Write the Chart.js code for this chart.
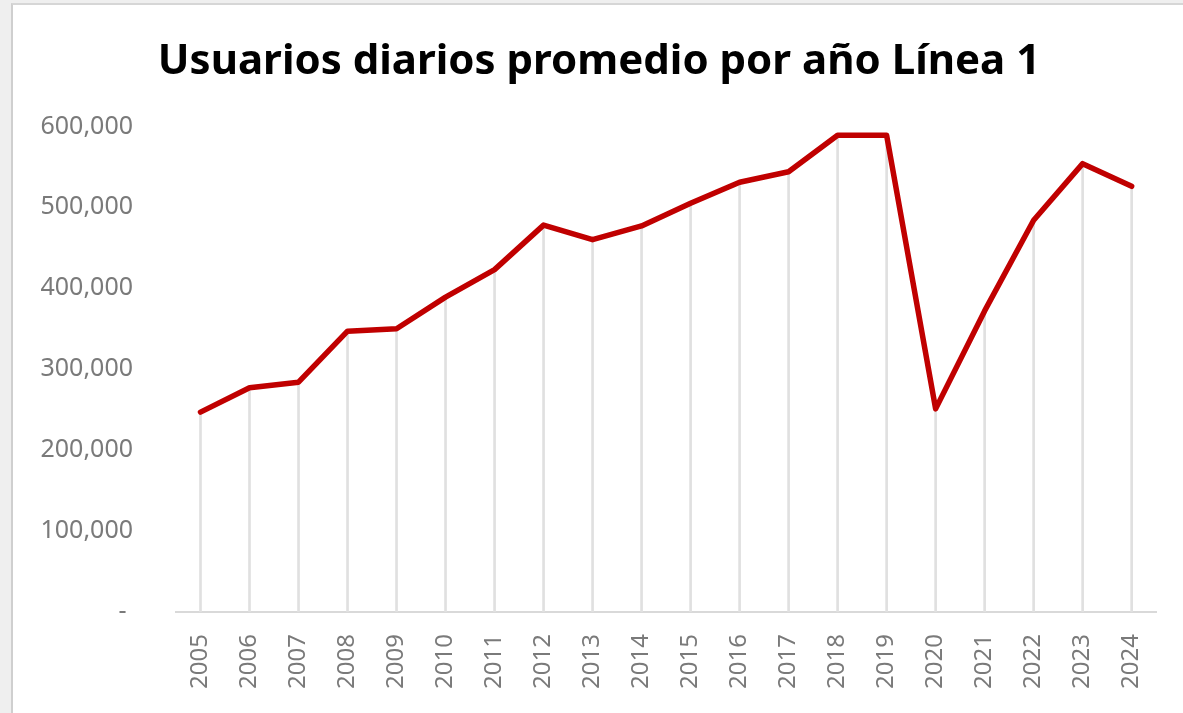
<!DOCTYPE html>
<html>
<head>
<meta charset="utf-8">
<script src="https://cdn.jsdelivr.net/npm/chart.js@4.4.1/dist/chart.umd.min.js"></script>
<style>
  html, body { margin: 0; padding: 0; }
  body { width: 1183px; height: 713px; background: #efefef; overflow: hidden; position: relative; }
  #panel {
    position: absolute; left: 11px; top: 3px; width: 1180px; height: 708px;
    background: #fff; border-left: 2px solid #cfcfcf; border-top: 2px solid #d6d6d6;
    border-bottom: 1px solid #e6e6e6;
  }
  #wrap { position: absolute; left: 0; top: 0; width: 1170px; height: 707px; }
</style>
</head>
<body>
<div id="panel"><div id="wrap"><canvas id="grafico"></canvas></div></div>
<script>
// Usuarios diarios promedio, Línea 1
const anios = ['2005','2006','2007','2008','2009','2010','2011','2012','2013','2014',
               '2015','2016','2017','2018','2019','2020','2021','2022','2023','2024'];
const usuarios = [247000, 277000, 284000, 347000, 350000, 389000, 423000, 478000, 460000, 477000,
                  505000, 531000, 544000, 589000, 589000, 251000, 372000, 484000, 554000, 526000];
const ticksY = [0, 100000, 200000, 300000, 400000, 500000, 600000];

const gris = '#7a7a7a';
const ctx = document.getElementById('grafico').getContext('2d');
const chart = new Chart(ctx, {
    data: {
        labels: anios,
        datasets: [
            {
                type: 'line',
                label: 'Usuarios',
                data: usuarios,
                borderColor: '#c00000',
                borderWidth: 5.5,
                pointRadius: 0,
                borderJoinStyle: 'round',
                borderCapStyle: 'round',
                tension: 0,
                order: 1
            },
            {
                // líneas de proyección
                type: 'bar',
                label: 'drop',
                data: usuarios,
                backgroundColor: '#e0e0e0',
                barThickness: 2,
                order: 2
            }
        ]
    },
    options: {
        responsive: true,
        maintainAspectRatio: false,
        animation: false,
        layout: { padding: { left: 24, right: 22, top: 0, bottom: 0 } },
        plugins: {
            legend: { display: false },
            tooltip: { enabled: false },
            title: {
                display: true,
                text: 'Usuarios diarios promedio por año Línea 1',
                color: '#000',
                font: { family: 'Noto Sans', size: 42, weight: 'bold', lineHeight: 1.2 },
                padding: { top: 32, bottom: 39 }
            }
        },
        scales: {
            x: {
                offset: true,
                grid: { display: false, drawTicks: false },
                border: { display: true, color: '#d9d9d9', width: 2 },
                ticks: {
                    color: gris,
                    minRotation: 90,
                    maxRotation: 90,
                    padding: 22,
                    font: { family: 'Noto Sans', size: 24 }
                },
                afterFit: s => { s.height = 100; }
            },
            y: {
                min: 0,
                max: 600000,
                grid: { display: false, drawTicks: false },
                border: { display: false },
                afterBuildTicks: s => { s.ticks = ticksY.map(v => ({ value: v })); },
                ticks: {
                    color: gris,
                    padding: 43,
                    font: { family: 'Noto Sans', size: 25 },
                    callback: v => v === 0 ? '- ' : v.toLocaleString('en-US')
                },
                afterFit: s => { s.width = 139; }
            }
        }
    }
});
</script>
</body>
</html>
